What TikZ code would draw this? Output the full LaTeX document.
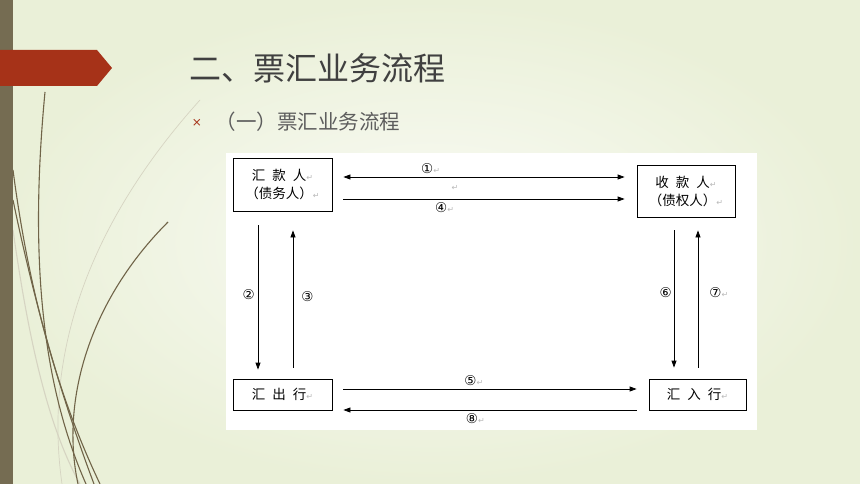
\documentclass[tikz,border=0pt]{standalone}
\usepackage{fontspec}
\newfontfamily\cjk{Noto Sans CJK SC}
\newfontfamily\dejavu{DejaVu Sans}
\usetikzlibrary{arrows.meta, calc, positioning}
\definecolor{bgedge}{RGB}{234,240,216}
\definecolor{bgmid}{RGB}{250,251,246}
\definecolor{barbrown}{RGB}{117,108,82}
\definecolor{bannerred}{RGB}{166,50,24}
\definecolor{grass}{RGB}{112,100,72}
\definecolor{grasslight}{RGB}{214,212,194}
\definecolor{titlegray}{RGB}{64,64,64}
\tikzstyle{party} = [draw=black, line width=0.8pt, fill=white,
minimum width=99pt, minimum height=53pt, inner sep=0pt,
align=center, font=\cjk\fontsize{13.5}{18}\selectfont]
\tikzstyle{flow} = [line width=0.8pt, -{Triangle[length=7pt,width=5pt]}]
\newcommand\retmark{{\dejavu\fontsize{8}{8}\selectfont\color{gray!55}↵}}

\begin{document}
\begin{tikzpicture}[x=1pt, y=-1pt,
        biflow/.style={{Triangle[length=7pt,width=5pt]}-{Triangle[length=7pt,width=5pt]}},
        lbl/.style={font=\dejavu\fontsize{13.5}{13.5}\selectfont, inner sep=1pt},
        stem/.style={line width=1.1pt, grass},
        stemlight/.style={line width=1.1pt, grasslight},
    ]
        \useasboundingbox (0,0) rectangle (860,484);
        \shade[inner color=bgmid, outer color=bgedge] (0,0) rectangle (860,484);

        % grass stems
        \draw[stemlight, line width=0.7pt] (200,100) .. controls (110,200) and (40,330) .. (62,484);
        \draw[stemlight] (13,230) .. controls (30,350) and (50,430) .. (80,484);
        \draw[stem] (45,92) .. controls (30,250) and (40,380) .. (86,484);
        \draw[stem] (13,170) .. controls (30,300) and (60,400) .. (100,484);
        \draw[stem] (168,222) .. controls (90,300) and (60,400) .. (78,484);
        \draw[stem] (13,200) .. controls (40,330) and (70,420) .. (94,484);

        \fill[barbrown] (0,0) rectangle (13,484);
        \fill[bannerred] (0,50) -- (97,50) -- (112,68) -- (97,86) -- (0,86) -- cycle;

        \node[anchor=west, text=titlegray, font=\cjk\fontsize{32}{32}\selectfont] (title) at (186,68) {二、票汇业务流程};
        \node[text=bannerred, font=\dejavu\fontsize{12}{12}\selectfont] (bullet) at (197,123) {×};
        \node[anchor=west, text=titlegray!85, font=\cjk\fontsize{20.5}{20.5}\selectfont] (sub) at (212,122) {（一）票汇业务流程};

        \fill[white] (226,153) rectangle (757,430);

        \node[party] (payer) at (282.5,184.5) {汇\hspace{7pt}款\hspace{7pt}人\retmark\\（债务人）\retmark};
        \node[party, minimum width=98pt, minimum height=52pt] (payee) at (686,191) {收\hspace{7pt}款\hspace{7pt}人\retmark\\（债权人）\retmark};
        \node[party, minimum height=31pt] (outbank) at (282.5,394.5) {汇\hspace{7pt}出\hspace{7pt}行\retmark};
        \node[party, minimum width=97pt, minimum height=31pt] (inbank) at (697.5,394.5) {汇\hspace{7pt}入\hspace{7pt}行\retmark};

        \draw[flow, biflow] ($(payer.east)+(11,-7.5)$) -- ($(payee.west)+(-12,-14)$)
            node[lbl, above=2pt, pos=0.31] {①\retmark};
        \node (blank) at (455,188) {\retmark};
        \draw[flow] ($(payer.east)+(11,14.5)$) -- ($(payee.west)+(-12,8)$)
            node[lbl, below=2pt, pos=0.36] {④\retmark};

        \draw[flow] ($(payer.south)+(-24.5,14)$) -- ($(outbank.north)+(-24.5,-9)$)
            node[lbl, left=2pt, pos=0.48] {②};
        \draw[flow] ($(outbank.north)+(10.5,-11)$) -- ($(payer.south)+(10.5,19)$)
            node[lbl, right=7pt, pos=0.52] {③};
        \draw[flow] ($(payee.south)+(-12,13)$) -- ($(inbank.north)+(-23.5,-11)$)
            node[lbl, left=1pt, pos=0.45] {⑥};
        \draw[flow] ($(inbank.north)+(0.5,-11)$) -- ($(payee.south)+(12,13)$)
            node[lbl, right=10pt, pos=0.55] {⑦\retmark};

        \draw[flow] ($(outbank.east)+(11,-5.5)$) -- ($(inbank.west)+(-12,-5.5)$)
            node[lbl, above=2pt, pos=0.445] {⑤\retmark};
        \draw[flow] ($(inbank.west)+(-12,15.5)$) -- ($(outbank.east)+(11,15.5)$)
            node[lbl, below=2pt, pos=0.55] {⑧\retmark};
    \end{tikzpicture}
\end{document}
